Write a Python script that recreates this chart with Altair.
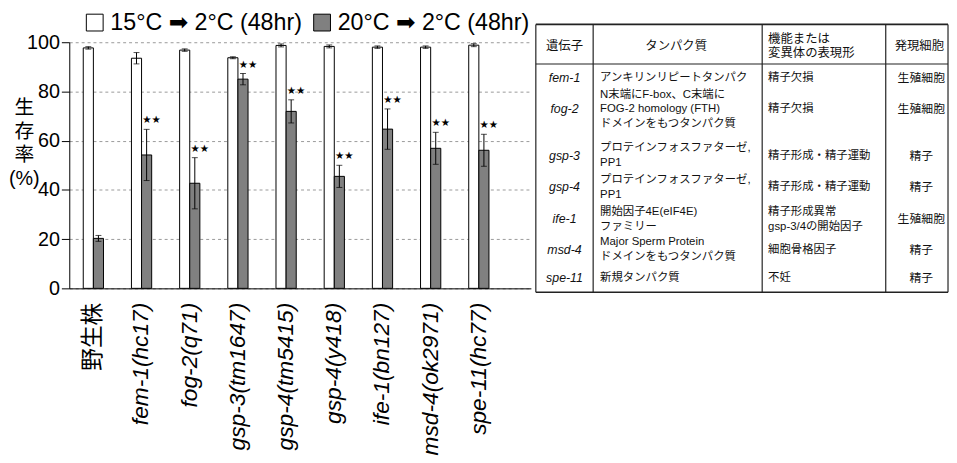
import altair as alt
import pandas as pd

# ---------------- data ----------------
strains = ["野生株", "fem-1(hc17)", "fog-2(q71)", "gsp-3(tm1647)", "gsp-4(tm5415)",
           "gsp-4(y418)", "ife-1(bn127)", "msd-4(ok2971)", "spe-11(hc77)"]
cond_labels = ["15°C ➡ 2°C (48hr)", "20°C ➡ 2°C (48hr)"]
surv_15 = [97.7, 93.5, 96.8, 93.7, 98.7, 98.3, 98.0, 98.0, 98.8]
err_15 = [0.5, 2.3, 0.5, 0.4, 0.6, 0.6, 0.5, 0.5, 0.6]
surv_20 = [20.3, 54.2, 42.7, 85.0, 71.9, 45.5, 64.7, 56.9, 56.1]
err_20 = [1.2, 10.4, 10.4, 2.3, 4.7, 4.5, 8.2, 6.5, 6.5]
sig_20 = ["", "★★", "★★", "★★", "★★", "★★", "★★", "★★", "★★"]

y_title = ["生", "存", "率", "(%)"]
y_ticks = [0, 20, 40, 60, 80, 100]

table_header = ["遺伝子", "タンパク質", "機能または\n変異体の表現形", "発現細胞"]
table_genes = ["fem-1", "fog-2", "gsp-3", "gsp-4", "ife-1", "msd-4", "spe-11"]
table_protein = ["アンキリンリピートタンパク",
                 "N末端にF-box、C末端に\nFOG-2 homology (FTH)\nドメインをもつタンパク質",
                 "プロテインフォスファターゼ,\nPP1",
                 "プロテインフォスファターゼ,\nPP1",
                 "開始因子4E(eIF4E)\nファミリー",
                 "Major Sperm Protein\nドメインをもつタンパク質",
                 "新規タンパク質"]
table_function = ["精子欠損", "精子欠損", "精子形成・精子運動", "精子形成・精子運動",
                  "精子形成異常\ngsp-3/4の開始因子", "細胞骨格因子", "不妊"]
table_cells = ["生殖細胞", "生殖細胞", "精子", "精子", "生殖細胞", "精子", "精子"]

# ---------------- table layout (layout units, not data) ----------------
TAB_W, TAB_H = 418, 249
row_pos = [54, 86, 133, 165, 197, 228, 257]
header_pos = 22
col_text_x = [29, 65, 235, 390]      # gene centre, protein left, function left, cell centre
header_x = [29, 142, 235, 388]
hlines = [0, 40, 271]
hline_w = [1.7, 1.1, 1.5]
vlines = [0, 58, 229, 354, 417]
LH = 15
LH_HDR = 14

FONT = "Liberation Sans, DejaVu Sans, Noto Sans CJK JP"

# ---------------- bar chart ----------------
rows = []
for i, s in enumerate(strains):
    rows.append(dict(strain=s, cond=cond_labels[0], v=surv_15[i],
                     lo=surv_15[i] - err_15[i], hi=surv_15[i] + err_15[i], sig=""))
    rows.append(dict(strain=s, cond=cond_labels[1], v=surv_20[i],
                     lo=surv_20[i] - err_20[i], hi=surv_20[i] + err_20[i], sig=sig_20[i]))
df = pd.DataFrame(rows)

x_enc = alt.X(
    "strain:N", sort=strains,
    scale=alt.Scale(domain=strains, paddingInner=0.58, paddingOuter=0.58, align=0.25),
    axis=alt.Axis(title=None, labelAngle=-90, labelFontSize=23, labelFont=FONT,
                  labelColor="black",
                  labelFontStyle={"condition": {"test": "datum.value === '野生株'", "value": "normal"},
                                  "value": "italic"},
                  labelPadding=14, labelLimit=400, ticks=False, domainColor="black",
                  domainWidth=1, grid=False))
xo = alt.XOffset("cond:N", scale=alt.Scale(domain=cond_labels, paddingInner=0, paddingOuter=0))
y_scale = alt.Scale(domain=[0, 100], nice=False, zero=True)
y_axis = alt.Axis(values=y_ticks, title=y_title, titleAngle=0, titleAlign="center",
                  titleBaseline="top", titleX=-46, titleY=56, titleLineHeight=24,
                  titleFontSize=20, titleFont=FONT, titleFontWeight="normal", titleColor="black",
                  labelFontSize=20, labelFont=FONT, labelColor="black", tickSize=8,
                  tickColor="black", labelPadding=2, domainColor="black", grid=True,
                  gridDash=[3, 3], gridColor="#9a9a9a")

base = alt.Chart(df)
bars = base.mark_bar(stroke="black", strokeWidth=1).encode(
    x=x_enc, xOffset=xo,
    y=alt.Y("v:Q", scale=y_scale, axis=y_axis),
    fill=alt.Fill("cond:N", scale=alt.Scale(domain=cond_labels, range=["white", "#808080"]),
                  legend=alt.Legend(title=None, orient="none", legendX=14, legendY=-32,
                                    direction="horizontal", symbolType="square",
                                    symbolSize=289, symbolStrokeColor="black",
                                    symbolStrokeWidth=1, labelFontSize=23.5, labelFont=FONT,
                                    labelColor="black", labelOffset=4, columnPadding=8,
                                    padding=0, labelLimit=400)))
err = base.mark_rule(color="black", strokeWidth=1).encode(
    x=x_enc, xOffset=xo, y=alt.Y("lo:Q", scale=y_scale, axis=y_axis), y2="hi:Q")
cap_hi = base.mark_tick(color="black", thickness=1, size=6, orient="horizontal").encode(
    x=x_enc, xOffset=xo, y=alt.Y("hi:Q", scale=y_scale, axis=y_axis))
cap_lo = base.mark_tick(color="black", thickness=1, size=6, orient="horizontal").encode(
    x=x_enc, xOffset=xo, y=alt.Y("lo:Q", scale=y_scale, axis=y_axis))
stars = base.mark_text(font="DejaVu Sans", fontSize=10.5, dx=5, dy=-9, baseline="middle",
                       color="black").encode(
    x=x_enc, xOffset=xo, y=alt.Y("hi:Q", scale=y_scale, axis=y_axis), text="sig:N")

left = alt.layer(bars, err, cap_hi, cap_lo, stars).properties(width=467, height=249)

# ---------------- table ----------------
tx = alt.Scale(domain=[0, TAB_W], nice=False, zero=False)
ty = alt.Scale(domain=[18, 18 + TAB_H], nice=False, zero=False, reverse=True)

h_df = pd.DataFrame({"y": hlines, "x": [0] * len(hlines), "x2": [vlines[-1]] * len(hlines),
                     "w": hline_w})
v_df = pd.DataFrame({"x": vlines, "y": [hlines[0]] * len(vlines), "y2": [hlines[-1]] * len(vlines)})

hrule = alt.Chart(h_df).mark_rule(color="#222").encode(
    x=alt.X("x:Q", scale=tx, axis=None), x2="x2:Q",
    y=alt.Y("y:Q", scale=ty, axis=None),
    strokeWidth=alt.StrokeWidth("w:Q", scale=None, legend=None))
vrule = alt.Chart(v_df).mark_rule(color="#222", strokeWidth=1.2).encode(
    x=alt.X("x:Q", scale=tx, axis=None),
    y=alt.Y("y:Q", scale=ty, axis=None), y2="y2:Q")


def cell_frame(texts, x, ys, lh):
    # first-line position so that a multi-line block is centred on its row
    first = [y - (t.count("\n")) * lh / 2 for t, y in zip(texts, ys)]
    return pd.DataFrame({"t": texts, "x": [x] * len(texts), "y": first})


def text_layer(df_, align, italic=False, size=11.5, lh=LH):
    kw = dict(font=FONT, fontSize=size, align=align, baseline="middle", lineBreak="\n",
              lineHeight=lh, color="#111")
    if italic:
        kw["fontStyle"] = "italic"
    return alt.Chart(df_).mark_text(**kw).encode(
        x=alt.X("x:Q", scale=tx, axis=None), y=alt.Y("y:Q", scale=ty, axis=None), text="t:N")


hdr_c = pd.concat([cell_frame([table_header[k]], header_x[k], [header_pos], LH_HDR)
                   for k in (0, 1, 3)], ignore_index=True)
hdr_l = cell_frame([table_header[2]], header_x[2], [header_pos], LH_HDR)
gene_df = cell_frame(table_genes, col_text_x[0], row_pos, LH)
prot_df = cell_frame(table_protein, col_text_x[1], row_pos, LH)
func_df = cell_frame(table_function, col_text_x[2], row_pos, LH)
cell_df = cell_frame(table_cells, col_text_x[3], row_pos, LH)

table = alt.layer(
    hrule, vrule,
    text_layer(hdr_c, "center", size=12.5, lh=LH_HDR),
    text_layer(hdr_l, "left", size=12.5, lh=LH_HDR),
    text_layer(gene_df, "center", italic=True, size=12.5),
    text_layer(prot_df, "left"),
    text_layer(func_df, "left"),
    text_layer(cell_df, "center", size=12),
).properties(width=TAB_W, height=TAB_H)

chart = alt.hconcat(left, table, spacing=4).properties(
    padding={"left": 0, "top": 0, "right": 0, "bottom": 0}
).configure_view(stroke=None)

chart.save("out.html", embed_options={"renderer": "svg", "actions": False})
